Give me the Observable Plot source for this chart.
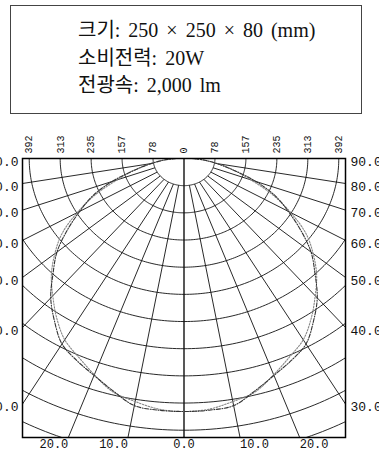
<!DOCTYPE html>
<html><head><meta charset="utf-8">
<script src="https://cdn.jsdelivr.net/npm/d3@7"></script>
<script src="https://cdn.jsdelivr.net/npm/@observablehq/plot@0.6"></script>
<style>
body{margin:0;background:#fff;width:379px;height:449px;overflow:hidden;}
#head{position:relative;height:118px;}
#box{position:absolute;left:10px;top:5px;width:350px;height:107px;border:1px solid #444;}
#box div{position:absolute;left:67px;font-family:"Liberation Serif","Noto Sans CJK KR",serif;font-size:20px;word-spacing:3px;color:#111;white-space:nowrap;line-height:1;}
#chart svg{display:block;}
</style></head><body>
<div id="head"><div id="box"></div></div>
<div id="chart"></div>
<script>
// ---- data ----
const infoLines = ["크기: 250 × 250 × 80 (mm)", "소비전력: 20W", "전광속: 2,000 lm"];
const topTickValues = [0, 78, 157, 235, 313, 392];
const ringRadii = [78.4, 156.8, 235.2, 313.6, 392, 470.4, 548.8, 627.2, 705.6, 784, 862.4];
const spokeAngles = [0, 10, 20, 30, 40, 50, 60, 70, 80, 90];
const sideLabelAngles = [90, 80, 70, 60, 50, 40, 30];
const bottomLabelAngles = [20, 10, 0];
const angles = [0, 5, 10, 15, 20, 25, 30, 35, 40, 45, 50, 55, 60, 65, 70, 75, 80, 85, 90];
const candelaC0 = [730, 729, 724, 694, 666, 643, 618, 572, 525, 469, 420, 361, 305, 255, 194, 130, 85, 50, 20];
const candelaC90 = [730, 726, 712, 697, 664, 632, 604, 562, 517, 475, 427, 377, 312, 248, 180, 130, 85, 50, 20];

// ---- header ----
const box = document.getElementById("box");
const lineTops = [14, 42, 69];
infoLines.forEach((t, i) => {
  const d = document.createElement("div");
  d.textContent = t;
  d.style.top = lineTops[i] + "px";
  box.appendChild(d);
});

// ---- geometry ----
const XMAX = 409, YMAX = 805;
const rad = a => a * Math.PI / 180;
const arcs = ringRadii.flatMap((r, i) =>
  d3.range(-90, 90.5, 1).map(a => ({ring: i, x: r * Math.sin(rad(a)), y: r * Math.cos(rad(a))})));
const spokes = spokeAngles.flatMap(a => (a === 0 ? [1] : [-1, 1]).map(s => {
  const r0 = a === 0 ? 0 : ringRadii[0];
  return {a, x1: s * r0 * Math.sin(rad(a)), y1: r0 * Math.cos(rad(a)),
          x2: s * 2000 * Math.sin(rad(a)), y2: 2000 * Math.cos(rad(a))};
}));
function curvePts(vals) {
  const left = angles.map((a, i) => ({x: -vals[i] * Math.sin(rad(a)), y: vals[i] * Math.cos(rad(a))})).reverse();
  const right = angles.slice(1).map((a, i) => ({x: vals[i + 1] * Math.sin(rad(a)), y: vals[i + 1] * Math.cos(rad(a))}));
  return left.concat(right);
}
const sideLabels = sideLabelAngles.flatMap(a => [-1, 1].map(s => ({
  s, x: s * XMAX, y: a === 90 ? 0 : XMAX / Math.tan(rad(a)), label: a.toFixed(1)})));
const bottomLabels = bottomLabelAngles.flatMap(a => (a === 0 ? [0] : [-1, 1]).map(s => ({
  s, x: s * YMAX * Math.tan(rad(a)), y: YMAX, label: a.toFixed(1)})));
const topLabels = topTickValues.flatMap(v => (v === 0 ? [0] : [-1, 1]).map(s => ({x: s * v, y: 0, label: String(v)})));

const mono = "Liberation Mono, DejaVu Sans Mono, monospace";
const chart = Plot.plot({
  width: 379, height: 331,
  marginTop: 40, marginBottom: 12, marginLeft: 22, marginRight: 34,
  x: {domain: [-XMAX, XMAX], axis: null},
  y: {domain: [0, YMAX], reverse: true, axis: null},
  style: {overflow: "visible", background: "white"},
  marks: [
    Plot.line(arcs, {x: "x", y: "y", z: "ring", stroke: "#111", strokeWidth: 0.9, clip: true}),
    Plot.link(spokes, {x1: "x1", y1: "y1", x2: "x2", y2: "y2", stroke: "#111", strokeWidth: d => d.a === 0 ? 1.4 : 0.9, clip: true}),
    Plot.line(curvePts(candelaC90), {x: "x", y: "y", curve: "catmull-rom", stroke: "#888", strokeWidth: 1.1, strokeDasharray: "1.5,1.5", clip: true}),
    Plot.line(curvePts(candelaC0), {x: "x", y: "y", curve: "catmull-rom", stroke: "#333", strokeWidth: 1.1, strokeDasharray: "4,1.5,1,1.5", clip: true}),
    Plot.frame({stroke: "#000", strokeWidth: 1.5}),
    Plot.text(topLabels, {x: "x", y: "y", text: "label", rotate: -90, textAnchor: "start", dy: -5, fontFamily: mono, fontSize: 10, fill: "#111"}),
    Plot.text(sideLabels.filter(d => d.s > 0), {x: "x", y: "y", text: "label", textAnchor: "start", dx: 5, dy: 3, fontFamily: mono, fontSize: 13, fill: "#111"}),
    Plot.text(sideLabels.filter(d => d.s < 0), {x: "x", y: "y", text: "label", textAnchor: "end", dx: -4, dy: 3, fontFamily: mono, fontSize: 13, fill: "#111"}),
    Plot.text(bottomLabels.filter(d => d.s > 0), {x: "x", y: "y", text: "label", textAnchor: "start", dy: 7, fontFamily: mono, fontSize: 12, fill: "#111"}),
    Plot.text(bottomLabels.filter(d => d.s < 0), {x: "x", y: "y", text: "label", textAnchor: "end", dy: 7, fontFamily: mono, fontSize: 12, fill: "#111"}),
    Plot.text(bottomLabels.filter(d => d.s === 0), {x: "x", y: "y", text: "label", textAnchor: "middle", dy: 7, fontFamily: mono, fontSize: 12, fill: "#111"})
  ]
});
document.getElementById("chart").appendChild(chart);
</script>
</body></html>
